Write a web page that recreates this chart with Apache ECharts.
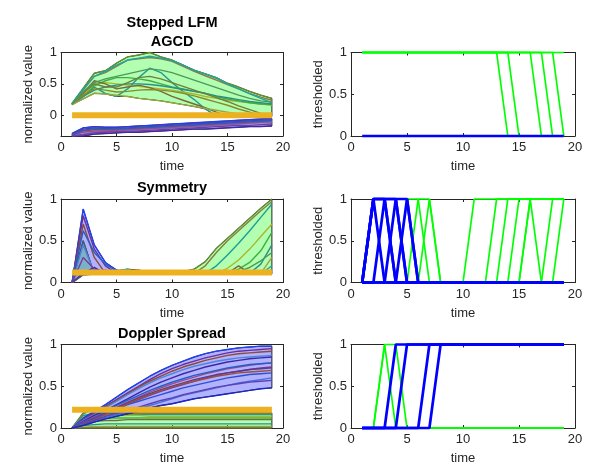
<!DOCTYPE html>
<html>
<head>
<meta charset="utf-8">
<script src="https://cdn.jsdelivr.net/npm/echarts@6/dist/echarts.min.js"></script>
<style>
  html, body { margin: 0; padding: 0; background: #fff; }
  #chart { width: 592px; height: 473px; }
</style>
</head>
<body>
<div id="chart"></div>
<script>
// ---------- data ----------
const timeSteps = [1, 2, 3, 4, 5, 6, 7, 8, 9, 10, 11, 12, 13, 14, 15, 16, 17, 18, 19];
const xTicks = [0, 5, 10, 15, 20];
const yTicks = [0, 0.5, 1];

// Stepped LFM / AGCD feature traces
const agcdThreshold = 0;
const agcdGreen = [
  [0.19, 0.43, 0.67, 0.71, 0.83, 0.93, 0.96, 1.00, 0.93, 0.88, 0.80, 0.71, 0.66, 0.59, 0.51, 0.45, 0.38, 0.32, 0.27],
  [0.18, 0.40, 0.62, 0.68, 0.78, 0.88, 0.90, 0.92, 0.90, 0.86, 0.78, 0.70, 0.63, 0.56, 0.49, 0.42, 0.35, 0.29, 0.24],
  [0.18, 0.30, 0.45, 0.35, 0.30, 0.42, 0.60, 0.75, 0.68, 0.52, 0.38, 0.25, 0.10, -0.01, -0.02, -0.02, -0.02, -0.02, -0.02],
  [0.18, 0.33, 0.50, 0.52, 0.50, 0.48, 0.46, 0.44, 0.42, 0.40, 0.37, 0.34, 0.30, 0.27, 0.24, 0.22, 0.20, 0.18, 0.16],
  [0.17, 0.30, 0.47, 0.55, 0.60, 0.60, 0.58, 0.55, 0.50, 0.45, 0.42, 0.38, 0.35, 0.30, 0.26, 0.23, 0.20, 0.18, 0.17],
  [0.18, 0.35, 0.55, 0.50, 0.42, 0.45, 0.48, 0.44, 0.38, 0.30, 0.24, 0.18, 0.12, 0.05, -0.01, -0.01, -0.01, -0.01, -0.01],
  [0.17, 0.30, 0.40, 0.45, 0.48, 0.50, 0.50, 0.49, 0.47, 0.44, 0.41, 0.38, 0.35, 0.31, 0.28, 0.25, 0.22, 0.20, 0.18],
  [0.17, 0.26, 0.35, 0.34, 0.32, 0.30, 0.27, 0.25, 0.23, 0.20, 0.17, 0.14, 0.11, 0.08, 0.05, 0.02, -0.01, -0.02, -0.02],
  [0.18, 0.36, 0.50, 0.45, 0.45, 0.52, 0.60, 0.62, 0.58, 0.52, 0.46, 0.40, 0.34, 0.28, 0.22, 0.15, 0.09, 0.03, -0.01],
  [0.19, 0.42, 0.62, 0.70, 0.80, 0.88, 0.91, 0.94, 0.91, 0.87, 0.80, 0.72, 0.66, 0.60, 0.50, 0.42, 0.34, 0.27, 0.20],
  [0.18, 0.32, 0.42, 0.40, 0.37, 0.38, 0.40, 0.41, 0.40, 0.38, 0.35, 0.31, 0.26, 0.21, 0.16, 0.10, 0.05, -0.01, -0.01],
  [0.18, 0.38, 0.52, 0.58, 0.62, 0.66, 0.70, 0.74, 0.72, 0.68, 0.62, 0.56, 0.50, 0.44, 0.38, 0.32, 0.27, 0.23, 0.21]
];
const agcdBlue = [
  [-0.29, -0.20, -0.18, -0.19, -0.19, -0.18, -0.17, -0.16, -0.15, -0.14, -0.13, -0.12, -0.11, -0.10, -0.09, -0.08, -0.07, -0.06, -0.05],
  [-0.30, -0.22, -0.20, -0.21, -0.21, -0.20, -0.19, -0.18, -0.17, -0.16, -0.15, -0.14, -0.13, -0.12, -0.11, -0.10, -0.09, -0.08, -0.07],
  [-0.31, -0.25, -0.23, -0.23, -0.22, -0.22, -0.21, -0.20, -0.19, -0.18, -0.17, -0.16, -0.15, -0.14, -0.13, -0.12, -0.11, -0.10, -0.09],
  [-0.32, -0.30, -0.27, -0.26, -0.25, -0.24, -0.23, -0.22, -0.21, -0.20, -0.19, -0.18, -0.17, -0.16, -0.15, -0.14, -0.13, -0.12, -0.11],
  [-0.33, -0.33, -0.30, -0.29, -0.28, -0.27, -0.27, -0.26, -0.25, -0.24, -0.23, -0.22, -0.22, -0.21, -0.20, -0.19, -0.18, -0.18, -0.17],
  [-0.32, -0.27, -0.25, -0.25, -0.24, -0.23, -0.22, -0.21, -0.20, -0.19, -0.18, -0.17, -0.16, -0.15, -0.14, -0.13, -0.12, -0.11, -0.10],
  [-0.31, -0.24, -0.21, -0.22, -0.22, -0.21, -0.20, -0.19, -0.18, -0.17, -0.16, -0.15, -0.14, -0.13, -0.12, -0.11, -0.10, -0.09, -0.08],
  [-0.33, -0.31, -0.28, -0.27, -0.26, -0.26, -0.25, -0.24, -0.23, -0.22, -0.21, -0.20, -0.19, -0.18, -0.17, -0.16, -0.16, -0.15, -0.14]
];
const agcdGreenBinary = [
  [1, 1, 1, 1, 1, 1, 1, 1, 1, 1, 1, 1, 1, 1, 1, 1, 1, 1, 1],
  [1, 1, 1, 1, 1, 1, 1, 1, 1, 1, 1, 1, 1, 0, 0, 0, 0, 0, 0],
  [1, 1, 1, 1, 1, 1, 1, 1, 1, 1, 1, 1, 1, 1, 0, 0, 0, 0, 0],
  [1, 1, 1, 1, 1, 1, 1, 1, 1, 1, 1, 1, 1, 1, 1, 1, 0, 0, 0],
  [1, 1, 1, 1, 1, 1, 1, 1, 1, 1, 1, 1, 1, 1, 1, 1, 1, 0, 0],
  [1, 1, 1, 1, 1, 1, 1, 1, 1, 1, 1, 1, 1, 1, 1, 1, 1, 1, 0]
];
const agcdBlueBinary = [
  [0, 0, 0, 0, 0, 0, 0, 0, 0, 0, 0, 0, 0, 0, 0, 0, 0, 0, 0]
];

// Symmetry feature traces
const symThreshold = 0.12;
const symGreen = [
  [0, 0.10, 0.10, 0.10, 0.10, 0.10, 0.10, 0.10, 0.10, 0.11, 0.13, 0.16, 0.25, 0.41, 0.53, 0.65, 0.77, 0.89, 1.00],
  [0, 0.10, 0.10, 0.10, 0.10, 0.10, 0.10, 0.10, 0.10, 0.10, 0.11, 0.11, 0.20, 0.36, 0.50, 0.62, 0.74, 0.86, 0.97],
  [0, 0.09, 0.10, 0.10, 0.10, 0.10, 0.10, 0.10, 0.10, 0.10, 0.10, 0.11, 0.11, 0.20, 0.33, 0.47, 0.62, 0.78, 0.94],
  [0, 0.10, 0.10, 0.10, 0.10, 0.10, 0.10, 0.10, 0.10, 0.10, 0.10, 0.10, 0.11, 0.11, 0.17, 0.27, 0.40, 0.55, 0.70],
  [0, 0.10, 0.10, 0.10, 0.10, 0.10, 0.10, 0.10, 0.10, 0.10, 0.10, 0.10, 0.10, 0.11, 0.11, 0.16, 0.24, 0.38, 0.60],
  [0, 0.10, 0.10, 0.10, 0.10, 0.10, 0.10, 0.10, 0.10, 0.10, 0.10, 0.10, 0.10, 0.10, 0.11, 0.20, 0.11, 0.11, 0.11],
  [0, 0.10, 0.10, 0.10, 0.10, 0.10, 0.10, 0.10, 0.10, 0.10, 0.10, 0.10, 0.10, 0.10, 0.10, 0.11, 0.11, 0.22, 0.45],
  [0, 0.10, 0.10, 0.10, 0.10, 0.10, 0.10, 0.10, 0.10, 0.10, 0.10, 0.10, 0.10, 0.10, 0.10, 0.10, 0.10, 0.11, 0.30],
  [0, 0.50, 0.10, 0.10, 0.10, 0.10, 0.10, 0.10, 0.10, 0.10, 0.10, 0.10, 0.10, 0.10, 0.10, 0.10, 0.10, 0.10, 0.15],
  [0, 0.10, 0.10, 0.10, 0.14, 0.16, 0.11, 0.10, 0.10, 0.10, 0.10, 0.10, 0.10, 0.10, 0.10, 0.10, 0.10, 0.10, 0.20],
  [0, 0.10, 0.10, 0.10, 0.10, 0.10, 0.15, 0.11, 0.10, 0.10, 0.10, 0.10, 0.10, 0.10, 0.10, 0.10, 0.10, 0.10, 0.10],
  [0, 0.10, 0.10, 0.10, 0.10, 0.13, 0.14, 0.10, 0.10, 0.10, 0.10, 0.10, 0.10, 0.10, 0.10, 0.13, 0.18, 0.26, 0.36]
];
const symBlue = [
  [0, 0.88, 0.45, 0.24, 0.15, 0.11, 0.10, 0.10, 0.10, 0.10, 0.10, 0.10, 0.10, 0.10, 0.10, 0.10, 0.10, 0.10, 0.10],
  [0, 0.80, 0.40, 0.20, 0.11, 0.10, 0.10, 0.10, 0.10, 0.10, 0.10, 0.10, 0.10, 0.10, 0.10, 0.10, 0.10, 0.10, 0.10],
  [0, 0.70, 0.30, 0.11, 0.10, 0.10, 0.10, 0.10, 0.10, 0.10, 0.10, 0.10, 0.10, 0.10, 0.10, 0.10, 0.10, 0.10, 0.10],
  [0, 0.45, 0.11, 0.10, 0.10, 0.10, 0.10, 0.10, 0.10, 0.10, 0.10, 0.10, 0.10, 0.10, 0.10, 0.10, 0.10, 0.10, 0.10],
  [0, 0.11, 0.18, 0.10, 0.10, 0.10, 0.10, 0.10, 0.10, 0.10, 0.10, 0.10, 0.10, 0.10, 0.10, 0.10, 0.10, 0.10, 0.10],
  [0, 0.10, 0.11, 0.15, 0.10, 0.10, 0.10, 0.10, 0.10, 0.10, 0.10, 0.10, 0.10, 0.10, 0.10, 0.10, 0.10, 0.10, 0.10],
  [0, 0.62, 0.36, 0.22, 0.14, 0.10, 0.10, 0.10, 0.10, 0.10, 0.10, 0.10, 0.10, 0.10, 0.10, 0.10, 0.10, 0.10, 0.10],
  [0, 0.30, 0.16, 0.13, 0.11, 0.10, 0.10, 0.10, 0.10, 0.10, 0.10, 0.10, 0.10, 0.10, 0.10, 0.10, 0.10, 0.10, 0.10],
  [0, 0.10, 0.10, 0.10, 0.14, 0.10, 0.10, 0.10, 0.10, 0.10, 0.10, 0.10, 0.10, 0.10, 0.10, 0.10, 0.10, 0.10, 0.10]
];
const symGreenBinary = [
  [0, 0, 0, 0, 0, 0, 0, 0, 0, 0, 1, 1, 1, 1, 1, 1, 1, 1, 1],
  [0, 0, 0, 0, 0, 0, 0, 0, 0, 0, 0, 0, 1, 1, 1, 1, 1, 1, 1],
  [0, 0, 0, 0, 0, 0, 0, 0, 0, 0, 0, 0, 0, 1, 1, 1, 1, 1, 1],
  [0, 0, 0, 0, 0, 0, 0, 0, 0, 0, 0, 0, 0, 0, 1, 1, 1, 1, 1],
  [0, 0, 0, 0, 0, 0, 0, 0, 0, 0, 0, 0, 0, 0, 0, 1, 1, 1, 1],
  [0, 0, 0, 0, 0, 0, 0, 0, 0, 0, 0, 0, 0, 0, 0, 1, 0, 0, 0],
  [0, 0, 0, 0, 0, 0, 0, 0, 0, 0, 0, 0, 0, 0, 0, 0, 0, 1, 1],
  [0, 0, 0, 0, 0, 0, 0, 0, 0, 0, 0, 0, 0, 0, 0, 0, 0, 0, 1],
  [0, 1, 0, 0, 0, 0, 0, 0, 0, 0, 0, 0, 0, 0, 0, 0, 0, 0, 0],
  [0, 0, 0, 0, 1, 1, 0, 0, 0, 0, 0, 0, 0, 0, 0, 0, 0, 0, 0],
  [0, 0, 0, 0, 0, 0, 1, 0, 0, 0, 0, 0, 0, 0, 0, 0, 0, 0, 0],
  [0, 0, 0, 0, 0, 1, 1, 0, 0, 0, 0, 0, 0, 0, 0, 0, 0, 0, 0]
];
const symBlueBinary = [
  [0, 1, 1, 1, 1, 0, 0, 0, 0, 0, 0, 0, 0, 0, 0, 0, 0, 0, 0],
  [0, 1, 1, 1, 0, 0, 0, 0, 0, 0, 0, 0, 0, 0, 0, 0, 0, 0, 0],
  [0, 1, 1, 0, 0, 0, 0, 0, 0, 0, 0, 0, 0, 0, 0, 0, 0, 0, 0],
  [0, 1, 0, 0, 0, 0, 0, 0, 0, 0, 0, 0, 0, 0, 0, 0, 0, 0, 0],
  [0, 0, 1, 0, 0, 0, 0, 0, 0, 0, 0, 0, 0, 0, 0, 0, 0, 0, 0],
  [0, 0, 0, 1, 0, 0, 0, 0, 0, 0, 0, 0, 0, 0, 0, 0, 0, 0, 0],
  [0, 0, 0, 0, 1, 0, 0, 0, 0, 0, 0, 0, 0, 0, 0, 0, 0, 0, 0]
];

// Doppler Spread feature traces
const dopThreshold = 0.22;
const dopGreen = [
  [0, 0.18, 0.24, 0.19, 0.18, 0.18, 0.18, 0.18, 0.18, 0.18, 0.18, 0.18, 0.18, 0.18, 0.18, 0.18, 0.18, 0.18, 0.18],
  [0, 0.17, 0.23, 0.24, 0.19, 0.18, 0.18, 0.18, 0.17, 0.17, 0.17, 0.17, 0.17, 0.17, 0.17, 0.17, 0.17, 0.17, 0.17],
  [0, 0.15, 0.17, 0.17, 0.17, 0.16, 0.16, 0.16, 0.16, 0.16, 0.16, 0.16, 0.16, 0.16, 0.16, 0.16, 0.16, 0.16, 0.16],
  [0, 0.13, 0.14, 0.15, 0.15, 0.15, 0.15, 0.14, 0.14, 0.14, 0.14, 0.14, 0.14, 0.14, 0.14, 0.14, 0.14, 0.14, 0.14],
  [0, 0.10, 0.11, 0.12, 0.12, 0.12, 0.12, 0.12, 0.12, 0.12, 0.12, 0.12, 0.12, 0.12, 0.12, 0.12, 0.12, 0.12, 0.12],
  [0, 0.06, 0.08, 0.09, 0.09, 0.10, 0.10, 0.10, 0.10, 0.10, 0.10, 0.10, 0.10, 0.10, 0.10, 0.10, 0.10, 0.10, 0.10],
  [0, 0.03, 0.04, 0.05, 0.05, 0.05, 0.05, 0.05, 0.05, 0.05, 0.05, 0.05, 0.05, 0.05, 0.05, 0.05, 0.05, 0.05, 0.05],
  [0, 0.01, 0.02, 0.02, 0.02, 0.02, 0.02, 0.02, 0.02, 0.02, 0.02, 0.02, 0.02, 0.02, 0.02, 0.02, 0.02, 0.02, 0.02],
  [0, 0.00, 0.00, 0.00, 0.00, 0.00, 0.00, 0.00, 0.00, 0.00, 0.00, 0.00, 0.00, 0.00, 0.00, 0.00, 0.00, 0.00, 0.00]
];
const dopBlue = [
  [0, 0.12, 0.20, 0.28, 0.37, 0.46, 0.54, 0.62, 0.69, 0.75, 0.80, 0.85, 0.89, 0.92, 0.94, 0.96, 0.97, 0.98, 0.98],
  [0, 0.10, 0.18, 0.26, 0.34, 0.42, 0.50, 0.58, 0.65, 0.71, 0.76, 0.80, 0.84, 0.87, 0.90, 0.92, 0.93, 0.94, 0.95],
  [0, 0.09, 0.17, 0.25, 0.33, 0.41, 0.49, 0.56, 0.62, 0.68, 0.73, 0.77, 0.81, 0.84, 0.87, 0.89, 0.90, 0.91, 0.92],
  [0, 0.09, 0.16, 0.24, 0.32, 0.40, 0.47, 0.54, 0.60, 0.65, 0.70, 0.74, 0.77, 0.80, 0.82, 0.84, 0.85, 0.86, 0.87],
  [0, 0.08, 0.15, 0.21, 0.28, 0.35, 0.42, 0.49, 0.55, 0.60, 0.65, 0.69, 0.73, 0.76, 0.79, 0.81, 0.83, 0.84, 0.85],
  [0, 0.07, 0.13, 0.19, 0.25, 0.31, 0.37, 0.43, 0.48, 0.53, 0.57, 0.61, 0.65, 0.68, 0.71, 0.73, 0.75, 0.77, 0.78],
  [0, 0.06, 0.12, 0.20, 0.27, 0.33, 0.39, 0.45, 0.50, 0.55, 0.59, 0.63, 0.66, 0.69, 0.72, 0.74, 0.76, 0.77, 0.78],
  [0, 0.06, 0.12, 0.18, 0.23, 0.29, 0.34, 0.39, 0.44, 0.48, 0.52, 0.56, 0.60, 0.63, 0.66, 0.68, 0.70, 0.72, 0.73],
  [0, 0.05, 0.11, 0.17, 0.24, 0.30, 0.36, 0.41, 0.46, 0.50, 0.54, 0.58, 0.61, 0.64, 0.66, 0.68, 0.70, 0.71, 0.72],
  [0, 0.06, 0.11, 0.17, 0.23, 0.28, 0.32, 0.36, 0.40, 0.44, 0.48, 0.51, 0.54, 0.57, 0.60, 0.62, 0.64, 0.65, 0.66],
  [0, 0.05, 0.10, 0.16, 0.23, 0.29, 0.35, 0.40, 0.45, 0.49, 0.53, 0.56, 0.59, 0.62, 0.64, 0.66, 0.67, 0.68, 0.69],
  [0, 0.04, 0.08, 0.12, 0.16, 0.19, 0.23, 0.27, 0.31, 0.35, 0.39, 0.42, 0.45, 0.48, 0.51, 0.54, 0.56, 0.58, 0.60],
  [0, 0.04, 0.09, 0.14, 0.18, 0.21, 0.25, 0.29, 0.33, 0.36, 0.40, 0.43, 0.46, 0.49, 0.51, 0.53, 0.55, 0.56, 0.57],
  [0, 0.03, 0.07, 0.11, 0.14, 0.17, 0.20, 0.24, 0.27, 0.29, 0.32, 0.35, 0.37, 0.39, 0.41, 0.43, 0.45, 0.47, 0.48]
];
const dopGreenBinary = [
  [0, 0, 1, 0, 0, 0, 0, 0, 0, 0, 0, 0, 0, 0, 0, 0, 0, 0, 0],
  [0, 0, 1, 1, 0, 0, 0, 0, 0, 0, 0, 0, 0, 0, 0, 0, 0, 0, 0],
  [0, 0, 0, 0, 0, 0, 0, 0, 0, 0, 0, 0, 0, 0, 0, 0, 0, 0, 0]
];
const dopBlueBinary = [
  [0, 0, 0, 1, 1, 1, 1, 1, 1, 1, 1, 1, 1, 1, 1, 1, 1, 1, 1],
  [0, 0, 0, 0, 1, 1, 1, 1, 1, 1, 1, 1, 1, 1, 1, 1, 1, 1, 1],
  [0, 0, 0, 0, 0, 0, 1, 1, 1, 1, 1, 1, 1, 1, 1, 1, 1, 1, 1],
  [0, 0, 0, 0, 0, 0, 0, 1, 1, 1, 1, 1, 1, 1, 1, 1, 1, 1, 1]
];

const panelTitles = [['Stepped LFM', 'AGCD'], ['Symmetry'], ['Doppler Spread']];

// ---------- styling ----------
const FONT = '"Liberation Sans", Arial, Helvetica, sans-serif';
const INK = '#262626';
const greenTraceColors = ['#5f8f2f', '#8c7a45', '#1f9c96', '#a8b82a', '#3fae3f', '#7a6a3a', '#2a8f8a', '#9aa640', '#6e7f3a', '#1fa6a0', '#8a8a2a', '#4c9a5a'];
const blueTraceColors = ['#2040f0', '#6a2f9a', '#8e4a3c', '#4f86d8', '#3a2aa8', '#a04a8a', '#1f60c8', '#7a3aa0', '#5a3a8a', '#2f4fd0', '#9a5040', '#4070e0', '#6040b0', '#1a2ac0'];
const GREEN_FILL = 'rgba(0,255,0,0.3)';
const BLUE_FILL = 'rgba(0,0,255,0.3)';
const THRESH_COLOR = '#EDB120';

const gridLeft = [61, 351];
const gridWidth = [222, 224];
const gridTop = [52.5, 199, 344.5];
const gridHeight = 83.5;

const grids = [];
const xAxes = [];
const yAxes = [];

function addPanel(row, col, yMin, yMax, yName) {
  const gi = grids.length;
  grids.push({ left: gridLeft[col], top: gridTop[row], width: gridWidth[col], height: gridHeight, containLabel: false });
  const line = { show: true, onZero: false, lineStyle: { color: INK, width: 1 } };
  const tick = { show: true, inside: true, length: 3, lineStyle: { color: INK, width: 1 } };
  const label = { color: INK, fontSize: 13, fontFamily: FONT };
  xAxes.push({
    gridIndex: gi, type: 'value', position: 'bottom', min: xTicks[0], max: xTicks[xTicks.length - 1], interval: 5,
    axisLine: line, axisTick: tick, splitLine: { show: false },
    axisLabel: Object.assign({ margin: 5 }, label),
    name: 'time', nameLocation: 'middle', nameGap: 24,
    nameTextStyle: { color: INK, fontSize: 13, fontFamily: FONT }
  });
  xAxes.push({
    gridIndex: gi, type: 'value', position: 'top', min: xTicks[0], max: xTicks[xTicks.length - 1], interval: 5,
    axisLine: line, axisTick: tick, splitLine: { show: false }, axisLabel: { show: false }
  });
  yAxes.push({
    gridIndex: gi, type: 'value', position: 'left', min: yMin, max: yMax,
    axisLine: line, axisTick: Object.assign({ customValues: yTicks }, tick), splitLine: { show: false },
    axisLabel: Object.assign({ margin: 4, customValues: yTicks }, label),
    name: yName, nameLocation: 'middle', nameGap: 24,
    nameTextStyle: { color: INK, fontSize: 13, fontFamily: FONT }
  });
  yAxes.push({
    gridIndex: gi, type: 'value', position: 'right', min: yMin, max: yMax,
    axisLine: line, axisTick: Object.assign({ customValues: yTicks }, tick), splitLine: { show: false },
    axisLabel: { show: false }
  });
  return gi;
}

const series = [];

function pairs(values) {
  return timeSteps.map((t, i) => [t, values[i]]);
}

// filled envelope spanning all traces of one class
function bandSeries(gi, traces, fill, z) {
  const upper = timeSteps.map((t, i) => Math.max(...traces.map(tr => tr[i])));
  const lower = timeSteps.map((t, i) => Math.min(...traces.map(tr => tr[i])));
  return {
    type: 'custom', xAxisIndex: gi * 2, yAxisIndex: gi * 2, silent: true, z: z,
    data: [[timeSteps[0], lower[0]]],
    renderItem: function (params, api) {
      const pts = [];
      for (let i = 0; i < timeSteps.length; i++) pts.push(api.coord([timeSteps[i], upper[i]]));
      for (let i = timeSteps.length - 1; i >= 0; i--) pts.push(api.coord([timeSteps[i], lower[i]]));
      return {
        type: 'polygon', shape: { points: pts },
        style: { fill: fill, stroke: 'rgba(0,0,0,0.85)', lineWidth: 1 }
      };
    }
  };
}

function traceSeries(gi, values, color, width, z) {
  return {
    type: 'line', xAxisIndex: gi * 2, yAxisIndex: gi * 2, data: pairs(values),
    showSymbol: false, symbol: 'none', silent: true, clip: false, z: z,
    lineStyle: { color: color, width: width }, emphasis: { disabled: true }
  };
}

function thresholdSeries(gi, level) {
  return {
    type: 'line', xAxisIndex: gi * 2, yAxisIndex: gi * 2,
    data: [[timeSteps[0], level], [timeSteps[timeSteps.length - 1], level]],
    showSymbol: false, symbol: 'none', silent: true, z: 6,
    lineStyle: { color: THRESH_COLOR, width: 6, cap: 'butt' }
  };
}

function featurePanel(row, green, blue, level, yMin) {
  const gi = addPanel(row, 0, yMin, 1, 'normalized value');
  series.push(bandSeries(gi, green, GREEN_FILL, 2));
  green.forEach((tr, k) => series.push(traceSeries(gi, tr, greenTraceColors[k % greenTraceColors.length], 1.4, 3)));
  series.push(bandSeries(gi, blue, BLUE_FILL, 4));
  blue.forEach((tr, k) => series.push(traceSeries(gi, tr, blueTraceColors[k % blueTraceColors.length], 1.4, 5)));
  series.push(thresholdSeries(gi, level));
}

function binaryPanel(row, green, blue) {
  const gi = addPanel(row, 1, 0, 1, 'thresholded');
  green.forEach(tr => series.push(traceSeries(gi, tr, '#00ff00', 1.7, 3)));
  blue.forEach(tr => series.push(traceSeries(gi, tr, '#0000ff', 2.7, 4)));
}

featurePanel(0, agcdGreen, agcdBlue, agcdThreshold, -0.33);
binaryPanel(0, agcdGreenBinary, agcdBlueBinary);
featurePanel(1, symGreen, symBlue, symThreshold, 0);
binaryPanel(1, symGreenBinary, symBlueBinary);
featurePanel(2, dopGreen, dopBlue, dopThreshold, 0);
binaryPanel(2, dopGreenBinary, dopBlueBinary);

// panel titles above the left column
const titleGraphics = [];
const titleCenterX = gridLeft[0] + gridWidth[0] / 2;
panelTitles.forEach((lines, row) => {
  lines.forEach((txt, k) => {
    const y = gridTop[row] - 11 - (lines.length - 1 - k) * 19;
    titleGraphics.push({
      type: 'text', x: titleCenterX, y: y, silent: true,
      style: { text: txt, fill: '#000', font: 'bold 14.5px ' + FONT, textAlign: 'center', textVerticalAlign: 'middle' }
    });
  });
});

const chart = echarts.init(document.getElementById('chart'), null, { renderer: 'canvas' });
chart.setOption({
  animation: false,
  backgroundColor: '#ffffff',
  grid: grids,
  xAxis: xAxes,
  yAxis: yAxes,
  series: series,
  graphic: titleGraphics
});
</script>
</body>
</html>
